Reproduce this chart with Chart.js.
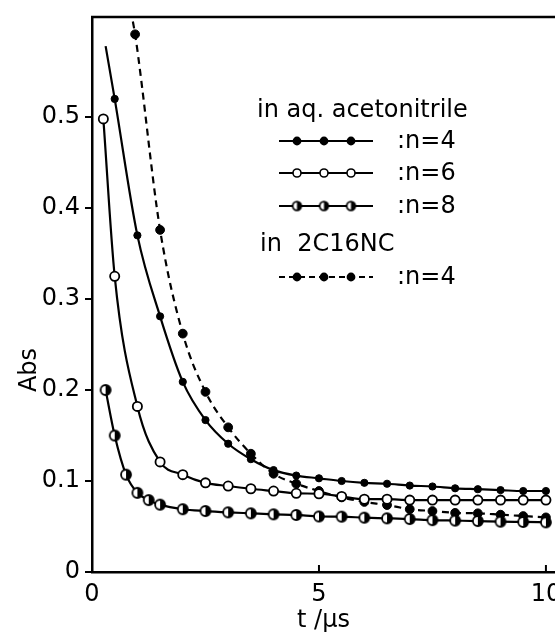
<!DOCTYPE html>
<html>
<head>
<meta charset="utf-8">
<script src="https://cdn.jsdelivr.net/npm/chart.js@4.4.0/dist/chart.umd.min.js"></script>
<style>
  html, body { margin: 0; padding: 0; background: #fff; }
  canvas { display: block; }
</style>
</head>
<body>
<canvas id="chart" width="555" height="633"></canvas>
<script>
// time axis (microseconds) and absorbance
const tN4 = [0.3, 0.5, 1.0, 1.5, 2.0, 2.5, 3.0, 3.5, 4.0, 4.5, 5.0, 5.5, 6.0, 6.5, 7.0, 7.5, 8.0, 8.5, 9.0, 9.5, 10.0]
const absN4 = [0.578, 0.52, 0.37, 0.281, 0.209, 0.167, 0.141, 0.124, 0.112, 0.106, 0.103, 0.100, 0.098, 0.097, 0.095, 0.094, 0.092, 0.091, 0.090, 0.089, 0.089]

const tN6 = [0.25, 0.5, 1.0, 1.5, 2.0, 2.5, 3.0, 3.5, 4.0, 4.5, 5.0, 5.5, 6.0, 6.5, 7.0, 7.5, 8.0, 8.5, 9.0, 9.5, 10.0]
const absN6 = [0.498, 0.325, 0.182, 0.121, 0.107, 0.098, 0.0945, 0.0915, 0.089, 0.0865, 0.086, 0.083, 0.080, 0.080, 0.079, 0.079, 0.079, 0.079, 0.079, 0.079, 0.079]

const tN8 = [0.3, 0.5, 0.75, 1.0, 1.25, 1.5, 2.0, 2.5, 3.0, 3.5, 4.0, 4.5, 5.0, 5.5, 6.0, 6.5, 7.0, 7.5, 8.0, 8.5, 9.0, 9.5, 10.0]
const absN8 = [0.200, 0.150, 0.107, 0.087, 0.079, 0.074, 0.069, 0.067, 0.0656, 0.0645, 0.0634, 0.0627, 0.061, 0.0608, 0.0597, 0.059, 0.0582, 0.057, 0.0565, 0.056, 0.0553, 0.055, 0.0546]

const tC16 = [0.9, 0.95, 1.5, 2.0, 2.5, 3.0, 3.5, 4.0, 4.5, 5.0, 5.5, 6.0, 6.5, 7.0, 7.5, 8.0, 8.5, 9.0, 9.5, 10.0]
const absC16 = [0.605, 0.591, 0.376, 0.262, 0.198, 0.159, 0.130, 0.108, 0.097, 0.089, 0.082, 0.077, 0.0736, 0.069, 0.067, 0.065, 0.0645, 0.063, 0.0615, 0.060]

const xTicks = [0, 5, 10]
const yTicks = [0, 0.1, 0.2, 0.3, 0.4, 0.5]

const groupTitles = ['in aq. acetonitrile', 'in  2C16NC']
const seriesLabels = [':n=4', ':n=6', ':n=8', ':n=4']

const FONT = 'DejaVu Sans'
const FONT_SIZE = 24

function toPoints (xs, ys) {
  return xs.map((x, i) => ({ x, y: ys[i] }))
}

// open circle with right half filled
function halfDisc (r) {
  const c = document.createElement('canvas')
  const s = Math.ceil(2 * r + 4)
  c.width = c.height = s
  const g = c.getContext('2d')
  const m = s / 2
  g.fillStyle = '#fff'
  g.beginPath(); g.arc(m, m, r, 0, 2 * Math.PI); g.fill()
  g.fillStyle = '#000'
  g.beginPath(); g.moveTo(m, m); g.arc(m, m, r, -Math.PI / 2, Math.PI / 2); g.closePath(); g.fill()
  g.strokeStyle = '#000'
  g.lineWidth = 1.8
  g.beginPath(); g.arc(m, m, r, 0, 2 * Math.PI); g.stroke()
  return c
}

const halfBig = halfDisc(5)
const halfSmall = halfDisc(4.3)

function drawMarker (ctx, kind, x, y) {
  ctx.save()
  if (kind === 'half') {
    ctx.drawImage(halfSmall, x - halfSmall.width / 2, y - halfSmall.height / 2)
  } else {
    ctx.beginPath()
    ctx.arc(x, y, kind === 'open' ? 4 : 3.6, 0, 2 * Math.PI)
    ctx.fillStyle = kind === 'open' ? '#fff' : '#000'
    ctx.fill()
    ctx.lineWidth = 1.6
    ctx.strokeStyle = '#000'
    ctx.stroke()
  }
  ctx.restore()
}

const frameAndLegend = {
  id: 'frameAndLegend',
  afterDraw (chart) {
    const ctx = chart.ctx
    const area = chart.chartArea
    const xs = chart.scales.x
    const ys = chart.scales.y

    ctx.save()
    ctx.strokeStyle = '#000'
    ctx.lineWidth = 2.5
    ctx.beginPath()
    ctx.moveTo(area.left - 1, area.top)
    ctx.lineTo(area.right, area.top)
    ctx.stroke()

    // inward ticks on the time axis
    ctx.lineWidth = 2
    xTicks.slice(1).forEach(v => {
      const px = xs.getPixelForValue(v)
      ctx.beginPath()
      ctx.moveTo(px, area.bottom)
      ctx.lineTo(px, area.bottom - 7)
      ctx.stroke()
    })

    // y-axis title
    ctx.fillStyle = '#000'
    ctx.font = FONT_SIZE + 'px "' + FONT + '"'
    ctx.textAlign = 'center'
    ctx.textBaseline = 'middle'
    ctx.translate(30, ys.getPixelForValue(0.222))
    ctx.rotate(-Math.PI / 2)
    ctx.fillText('Abs', 0, 0)
    ctx.restore()

    // legend
    ctx.save()
    ctx.fillStyle = '#000'
    ctx.strokeStyle = '#000'
    ctx.font = FONT_SIZE + 'px "' + FONT + '"'
    ctx.textAlign = 'left'
    ctx.textBaseline = 'middle'
    ctx.fillText(groupTitles[0], 257, 111)
    ctx.fillText(groupTitles[1], 260, 245)

    const rows = [
      { y: 141, kind: 'filled', dash: [] },
      { y: 173, kind: 'open', dash: [] },
      { y: 206, kind: 'half', dash: [] },
      { y: 277, kind: 'filled', dash: [6, 4] }
    ]
    rows.forEach((row, i) => {
      ctx.lineWidth = 2
      ctx.setLineDash(row.dash)
      ctx.beginPath()
      ctx.moveTo(279, row.y)
      ctx.lineTo(373, row.y)
      ctx.stroke()
      ctx.setLineDash([])
      ;[297, 324, 351].forEach(px => drawMarker(ctx, row.kind, px, row.y))
      ctx.fillText(seriesLabels[i], 397, row.y + 1)
    })
    ctx.restore()
  }
}

function radii (n, r, skipFirst) {
  return Array.from({ length: n }, (_, i) => (skipFirst && i === 0 ? 0 : r))
}

const datasets = [
  {
    label: seriesLabels[0],
    data: toPoints(tN4, absN4),
    borderColor: '#000',
    borderWidth: 2.2,
    pointStyle: 'circle',
    pointRadius: radii(tN4.length, 3.6, true),
    pointBackgroundColor: '#000',
    pointBorderColor: '#000',
    pointBorderWidth: 1
  },
  {
    label: seriesLabels[1],
    data: toPoints(tN6, absN6),
    borderColor: '#000',
    borderWidth: 2.2,
    pointStyle: 'circle',
    pointRadius: 4.6,
    pointBackgroundColor: '#fff',
    pointBorderColor: '#000',
    pointBorderWidth: 1.8
  },
  {
    label: seriesLabels[2],
    data: toPoints(tN8, absN8),
    borderColor: '#000',
    borderWidth: 2.2,
    pointStyle: halfBig,
    pointRadius: 5
  },
  {
    label: seriesLabels[3],
    data: toPoints(tC16, absC16),
    borderColor: '#000',
    borderWidth: 2.2,
    borderDash: [7, 5],
    pointStyle: 'circle',
    pointRadius: radii(tC16.length, 4.4, true),
    pointBackgroundColor: '#000',
    pointBorderColor: '#000',
    pointBorderWidth: 1
  }
]

datasets.forEach(ds => {
  ds.showLine = true
  ds.cubicInterpolationMode = 'monotone'
  ds.fill = false
})

const tickFont = { family: FONT, size: FONT_SIZE }

// eslint-disable-next-line no-unused-vars
const chart = new Chart(document.getElementById('chart'), {
  type: 'scatter',
  data: { datasets },
  options: {
    responsive: false,
    animation: false,
    devicePixelRatio: 1,
    layout: { autoPadding: false, padding: { top: 17, right: 0, left: 0, bottom: 0 } },
    plugins: {
      legend: { display: false },
      tooltip: { enabled: false }
    },
    scales: {
      x: {
        type: 'linear',
        min: 0,
        max: 10.2,
        afterBuildTicks: scale => { scale.ticks = xTicks.map(v => ({ value: v })) },
        // plot runs to the right edge like the cropped original, so no room kept for the "10"
        afterFit: scale => {
          scale.height = 61
          scale.paddingLeft = 0
          scale.paddingRight = 0
        },
        grid: { display: true, drawOnChartArea: false, drawTicks: false },
        border: { display: true, color: '#000', width: 2.5 },
        ticks: { color: '#000', font: tickFont, padding: 8, maxRotation: 0, callback: v => String(v) },
        title: { display: true, text: 't /µs', color: '#000', font: { family: FONT, size: FONT_SIZE, lineHeight: 1.0 }, padding: { top: 0, bottom: 0 } }
      },
      y: {
        type: 'linear',
        min: 0,
        max: 0.61,
        afterBuildTicks: scale => { scale.ticks = yTicks.map(v => ({ value: v })) },
        afterFit: scale => {
          scale.width = 92
          scale.paddingTop = 0
          scale.paddingBottom = 0
        },
        grid: { display: true, drawOnChartArea: false, drawTicks: true, tickLength: 7, color: '#000', lineWidth: 2 },
        border: { display: true, color: '#000', width: 2.5 },
        ticks: { color: '#000', font: tickFont, padding: 5, callback: v => (v === 0 ? '0' : v.toFixed(1)) }
      }
    }
  },
  plugins: [frameAndLegend]
})
</script>
</body>
</html>
